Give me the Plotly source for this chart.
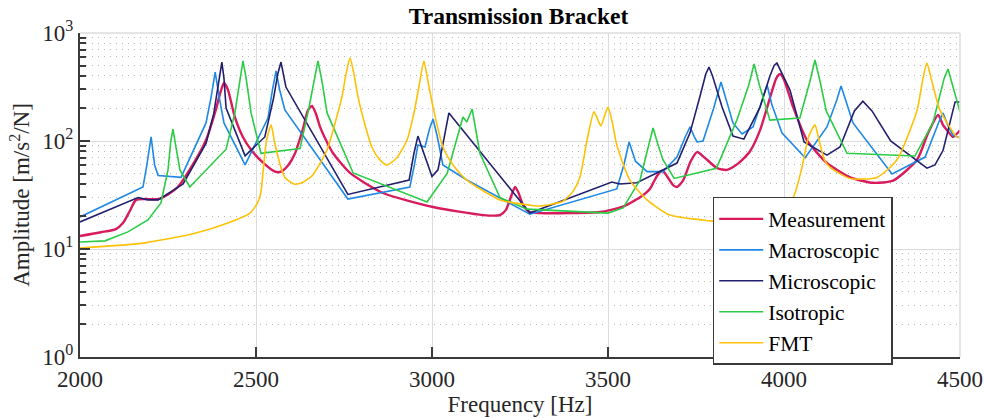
import plotly.graph_objects as go

# Frequency response of the transmission bracket: measured vs. simulated material models
meas_f = [2000, 2060, 2102, 2122, 2140, 2159, 2185, 2222, 2250, 2278, 2320, 2358, 2385, 2400,
          2409, 2420, 2440, 2462, 2486, 2520, 2554, 2571, 2592, 2611, 2632, 2648, 2659, 2670,
          2682, 2700, 2719, 2767, 2861, 3003, 3145, 3193, 3210, 3225, 3236, 3246, 3260, 3278,
          3307, 3392, 3477, 3540, 3590, 3619, 3640, 3655, 3668, 3685, 3696, 3713, 3735, 3753,
          3775, 3810, 3838, 3870, 3903, 3932, 3960, 3978, 3989, 4000, 4026, 4065, 4122, 4188,
          4253, 4310, 4378, 4410, 4438, 4452, 4463, 4480, 4500]
meas_a = [13.2, 14.3, 15.3, 17.4, 22, 28.5, 29, 29, 32, 37.5, 60, 102, 190, 290,
          344, 300, 166, 110, 83, 63, 52, 52, 60, 77, 125, 194, 211, 180,
          135, 100, 77, 50.6, 33, 24.5, 20.6, 20.6, 23, 31, 37.5, 33, 25, 22,
          21.5, 21.5, 22, 24.5, 30, 36, 48, 53, 47, 39, 37.5, 43, 65, 79,
          70, 56, 54, 62, 80, 126, 250, 380, 417, 370, 206, 102, 62.5, 46,
          41, 43, 67, 120, 174, 140, 126, 109, 126]

macro_f = [2000, 2179, 2190, 2202, 2212, 2222, 2287, 2358, 2372, 2384, 2396, 2409, 2469, 2534,
           2547, 2557, 2567, 2582, 2761, 2937, 2950, 2960, 2980, 2993, 3003, 3015, 3031, 3099,
           3278, 3525, 3545, 3560, 3578, 3611, 3656, 3696, 3720, 3733, 3745, 3753, 3770, 3800,
           3821, 3840, 3855, 3881, 3912, 3940, 3952, 3965, 3994, 4060, 4122, 4150, 4162, 4175,
           4196, 4307, 4401, 4440, 4452, 4465, 4480, 4500]
macro_a = [19.8, 37.5, 60, 109, 60, 48, 46, 147, 250, 435, 250, 147, 60, 163,
           300, 445, 300, 194, 29, 37.5, 60, 92, 88, 130, 160, 110, 60, 43.5,
           21, 36, 60, 98, 65, 52, 52, 71, 110, 135, 110, 98, 100, 200,
           352, 220, 147, 116, 135, 250, 330, 220, 119, 70, 135, 240, 323, 240,
           147, 49.4, 71, 150, 182, 140, 113, 107]

micro_f = [2000, 2165, 2193, 2222, 2293, 2358, 2380, 2395, 2403, 2409, 2415, 2469, 2525, 2550,
           2562, 2571, 2578, 2585, 2761, 2935, 2948, 2960, 2975, 3000, 3017, 3048, 3278, 3511,
           3534, 3582, 3696, 3733, 3760, 3778, 3787, 3797, 3824, 3855, 3886, 3932, 3960, 3972,
           3980, 3990, 4017, 4057, 4122, 4159, 4200, 4224, 4250, 4303, 4406, 4429, 4452, 4486,
           4500]
micro_a = [17.8, 30, 28.5, 28.5, 40, 95, 180, 380, 538, 380, 202, 73, 109, 250,
           420, 538, 420, 316, 32, 43.5, 75, 111, 80, 47, 54, 182, 21.5, 41.7,
           40, 41, 62.5, 119, 250, 420, 484, 400, 206, 111, 104, 206, 400, 500,
           527, 450, 297, 98, 74, 88, 190, 234, 190, 100, 56, 60, 82, 230,
           230]

iso_f = [2000, 2071, 2136, 2193, 2230, 2250, 2258, 2264, 2272, 2284, 2312, 2415, 2440, 2455,
         2463, 2472, 2486, 2514, 2625, 2650, 2667, 2676, 2686, 2702, 2776, 2986, 3043, 3077,
         3088, 3099, 3114, 3136, 3193, 3270, 3500, 3543, 3591, 3615, 3628, 3641, 3656, 3688,
         3808, 3866, 3900, 3915, 3930, 3960, 4045, 4073, 4088, 4103, 4120, 4179, 4372, 4423,
         4455, 4466, 4478, 4500]
iso_a = [11.6, 11.9, 14.4, 18.6, 26.7, 54, 100, 129, 90, 54, 37.5, 84, 182, 380,
         551, 380, 182, 77, 85, 200, 400, 551, 380, 182, 50.6, 27.2, 50, 126,
         167, 150, 198, 77, 30, 23.4, 21.5, 24, 43.5, 90, 132, 95, 67, 45,
         56, 156, 330, 516, 330, 156, 163, 350, 562, 350, 190, 77, 72.6, 147,
         380, 464, 330, 186]

fmt_f = [2000, 2185, 2327, 2420, 2483, 2505, 2514, 2522, 2530, 2543, 2552, 2560, 2570, 2582,
         2608, 2630, 2660, 2702, 2730, 2744, 2756, 2767, 2778, 2790, 2810, 2829, 2850, 2872,
         2900, 2929, 2950, 2965, 2977, 2989, 3003, 3031, 3060, 3099, 3193, 3278, 3307, 3372,
         3400, 3420, 3440, 3460, 3470, 3480, 3490, 3500, 3512, 3525, 3562, 3611, 3676, 3790,
         3860, 3920, 3970, 4000, 4026, 4050, 4070, 4088, 4100, 4115, 4131, 4188, 4264, 4321,
         4378, 4395, 4406, 4418, 4443, 4491, 4500]
fmt_a = [10.2, 11.4, 14, 17.4, 21.5, 27, 33.7, 60, 102, 141, 100, 77, 58, 46,
         40, 41, 48, 83, 170, 255, 420, 588, 420, 255, 140, 88, 68, 60,
         70, 102, 190, 350, 551, 350, 206, 88, 60, 43.5, 28.5, 25.5, 25, 27.7,
         34, 46, 100, 186, 160, 138, 170, 206, 150, 92, 43.5, 28.5, 20.6, 18.2,
         17.5, 18.5, 23, 26, 30, 55, 110, 141, 100, 67, 57, 45, 46, 67,
         193, 380, 527, 380, 193, 109, 107]

series = [
    ("Measurement", meas_f, meas_a, "#d81b5c", 2.4, "spline"),
    ("Macroscopic", macro_f, macro_a, "#1e88e5", 1.6, "linear"),
    ("Microscopic", micro_f, micro_a, "#22206e", 1.6, "linear"),
    ("Isotropic", iso_f, iso_a, "#2bcc45", 1.6, "linear"),
    ("FMT", fmt_f, fmt_a, "#ffc107", 1.6, "spline"),
]

x_ticks = [2000, 2500, 3000, 3500, 4000, 4500]
y_ticks = [1, 10, 100, 1000]
y_tick_text = ["10<sup>0</sup>", "10<sup>1</sup>", "10<sup>2</sup>", "10<sup>3</sup>"]
y_minor = [m * d for d in (1, 10, 100) for m in range(2, 10)]

FONT = "Liberation Serif, Times New Roman, serif"
AXIS_DARK = "#3a3a3a"
GRID = "#dcdcdc"

fig = go.Figure()
for name, f, a, color, width, shape in series:
    line = dict(color=color, width=width, shape=shape)
    if shape == "spline":
        line["smoothing"] = 0.6
    fig.add_trace(go.Scatter(x=f, y=a, mode="lines", name=name, line=line))

fig.update_layout(
    width=984, height=418,
    margin=dict(l=80, r=24, t=33, b=61),
    paper_bgcolor="white", plot_bgcolor="white",
    font=dict(family=FONT, size=23, color="#262626"),
    title=dict(text="<b>Transmission Bracket</b>", font=dict(family=FONT, size=23.5, color="#000"),
               x=0.527, xanchor="center", y=0.962, yanchor="middle"),
    showlegend=True,
    legend=dict(x=0.719, y=0.494, xanchor="left", yanchor="top",
                bgcolor="white", bordercolor=AXIS_DARK, borderwidth=1.5,
                font=dict(family=FONT, size=21.5, color="#000"),
                tracegroupgap=0, itemwidth=44),
    shapes=[
        dict(type="line", xref="paper", yref="paper", x0=0, x1=1, y0=1, y1=1,
             line=dict(color=GRID, width=1.5)),
        dict(type="line", xref="paper", yref="paper", x0=1, x1=1, y0=0, y1=1,
             line=dict(color=GRID, width=1.5)),
    ],
)

fig.update_xaxes(
    range=[2000, 4500], tickmode="array", tickvals=x_ticks,
    ticks="inside", ticklen=10, tickwidth=1.5, tickcolor=AXIS_DARK,
    showline=True, linecolor=AXIS_DARK, linewidth=2, mirror=False,
    showgrid=True, gridcolor=GRID, gridwidth=1.2, zeroline=False,
    tickfont=dict(family=FONT, size=23, color="#262626"),
    title=dict(text="Frequency [Hz]", font=dict(family=FONT, size=23, color="#262626"), standoff=4),
    automargin=False,
)

fig.update_yaxes(
    type="log", range=[0, 3], tickmode="array", tickvals=y_ticks, ticktext=y_tick_text,
    ticks="inside", ticklen=10, tickwidth=1.5, tickcolor=AXIS_DARK,
    showline=True, linecolor=AXIS_DARK, linewidth=2, mirror=False,
    showgrid=True, gridcolor=GRID, gridwidth=1.2, zeroline=False,
    tickfont=dict(family=FONT, size=23, color="#262626"),
    minor=dict(tickmode="array", tickvals=y_minor, ticks="inside", ticklen=6,
               tickwidth=1.5, tickcolor=AXIS_DARK, showgrid=True,
               gridcolor="#b8b8b8", griddash="1px,5px", gridwidth=1.4),
    title=dict(text="Amplitude [m/s<sup>2</sup>/N]", font=dict(family=FONT, size=23, color="#262626"), standoff=6),
    automargin=False,
)

fig.write_html("out.html")
